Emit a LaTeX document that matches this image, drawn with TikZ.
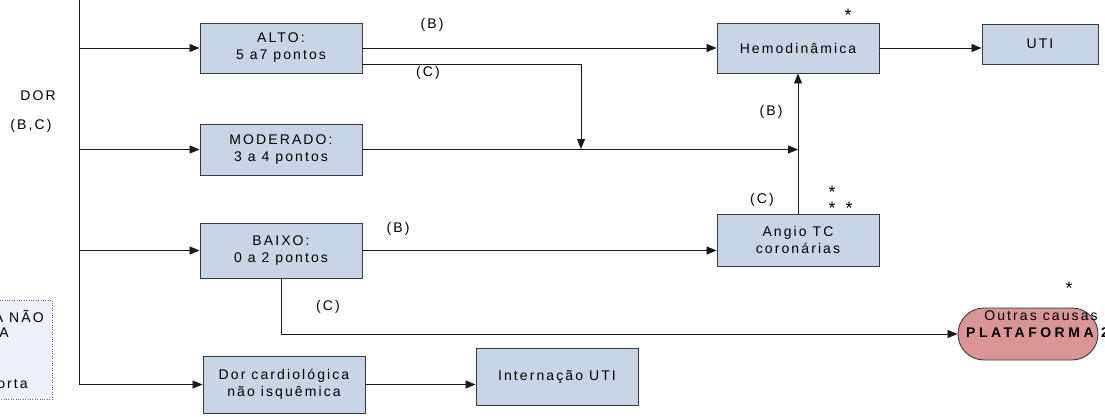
\documentclass[tikz,border=0pt]{standalone}
\usepackage{fontspec}
\setmainfont{Liberation Sans}
\newfontfamily\lsfont[LetterSpace=15]{Liberation Sans}
\newfontfamily\lsbold[LetterSpace=25]{Liberation Sans Bold}
\usetikzlibrary{arrows.meta}
\definecolor{boxfill}{HTML}{C8D5E6}
\definecolor{boxline}{HTML}{3A3A3A}
\definecolor{linecol}{HTML}{1A1A1A}
\definecolor{outfill}{HTML}{DA9694}
\definecolor{legfill}{HTML}{EEF1F9}
\tikzset{
  txt/.style={inner sep=0pt, align=center, font=\lsfont\fontsize{14}{17}\selectfont},
  star/.style={inner sep=0pt, anchor=base, font=\fontsize{18}{18}\selectfont},
  box/.style={txt, draw=boxline, fill=boxfill, line width=0.9pt, minimum width=162pt},
  arr/.style={draw=linecol, line width=0.8pt, -{Triangle[length=10pt,width=8pt]}},
  ln/.style={draw=linecol, line width=0.8pt},
}
\begin{document}
\begin{tikzpicture}[x=1pt,y=-1pt]
\useasboundingbox (0,0) rectangle (1105,416);
\clip (0,0) rectangle (1105,416);
\fill[white] (0,0) rectangle (1105,416);

% legend box (partly outside, as in the reference)
\node[draw=black!60, dotted, fill=legfill, minimum width=70pt, minimum height=99pt, inner sep=0pt] (leg) at (17,349.5) {};
\node[txt, anchor=east] (leg1) at (44,316) {DOR TORÁCICA NÃO};
\node[txt, anchor=east] (leg2) at (9,333) {ISQUÊMICA};
\node[txt, anchor=east] (leg3) at (28,385) {Dissecção de aorta};

% boxes
\node[box, minimum height=50pt] (alto) at (281,48) {ALTO:\\5 a7 pontos};
\node[box, minimum height=51pt] (mod) at (281,149.5) {MODERADO:\\3 a 4 pontos};
\node[box, minimum height=55pt] (baixo) at (281,250.5) {BAIXO:\\0 a 2 pontos};
\node[box, minimum height=57pt] (dor) at (284,384.5) {Dor cardiológica\\não isquêmica};
\node[box, minimum height=57pt] (intern) at (557,376.5) {Internação UTI};
\node[box, minimum height=50pt] (hemo) at (798,48) {Hemodinâmica};
\node[box, minimum width=116pt, minimum height=40pt] (uti) at (1040,44) {UTI};
\node[box, minimum height=52pt] (angio) at (798,240) {Angio TC\\coronárias};
\node[draw=boxline, fill=outfill, line width=0.9pt, minimum width=140pt, minimum height=52pt, rounded corners=26pt, inner sep=0pt] (outras) at (1028,334) {};
\node[txt] (outras1) at (1041,316) {Outras causas};
\node[txt, anchor=west, font=\lsbold\fontsize{14}{17}\selectfont] (outras2) at (966,333) {PLATAFORMA 2};

% trunk
\coordinate (top) at (79,-2);
\coordinate (bot) at (79,385);
\draw[ln] (top) -- (bot);
\draw[arr] (alto.west -| top) -- (alto.west);
\draw[arr] (mod.west -| top) -- (mod.west);
\draw[arr] (baixo.west -| top) -- (baixo.west);
\draw[arr] (dor.west -| top) -- (dor.west);

% connectors
\coordinate (j1) at (581,149);
\draw[arr] (alto.east) -- (hemo.west);
\draw[arr] ([yshift=-16pt]alto.east) -| (j1);
\draw[arr] (mod.east) -- (mod.east -| angio.north);
\draw[arr] (angio.north) -- (hemo.south);
\draw[arr] (hemo.east) -- (hemo.east -| uti.west);
\draw[arr] (baixo.east) -- (baixo.east -| angio.west);
\draw[arr] (baixo.south) -- (baixo.south |- outras.west) -- (outras.west);
\draw[arr] (dor.east) -- (dor.east -| intern.west);

% labels
\node[txt] (dorl) at (38,96) {DOR};
\node[txt] (bcl) at (31,126) {(B,C)};
\node[txt] (b1) at (432,25) {(B)};
\node[txt] (c1) at (428,73) {(C)};
\node[txt] (b2) at (771,112) {(B)};
\node[txt] (c2) at (762,200) {(C)};
\node[txt] (b3) at (398,229) {(B)};
\node[txt] (c3) at (328,307) {(C)};
\node[star] (s1) at (848,21) {*};
\node[star] (s2) at (832,198) {*};
\node[star] (s3) at (832,214) {*};
\node[star] (s4) at (849,214) {*};
\node[star] (s5) at (1069,294) {*};
\end{tikzpicture}
\end{document}
